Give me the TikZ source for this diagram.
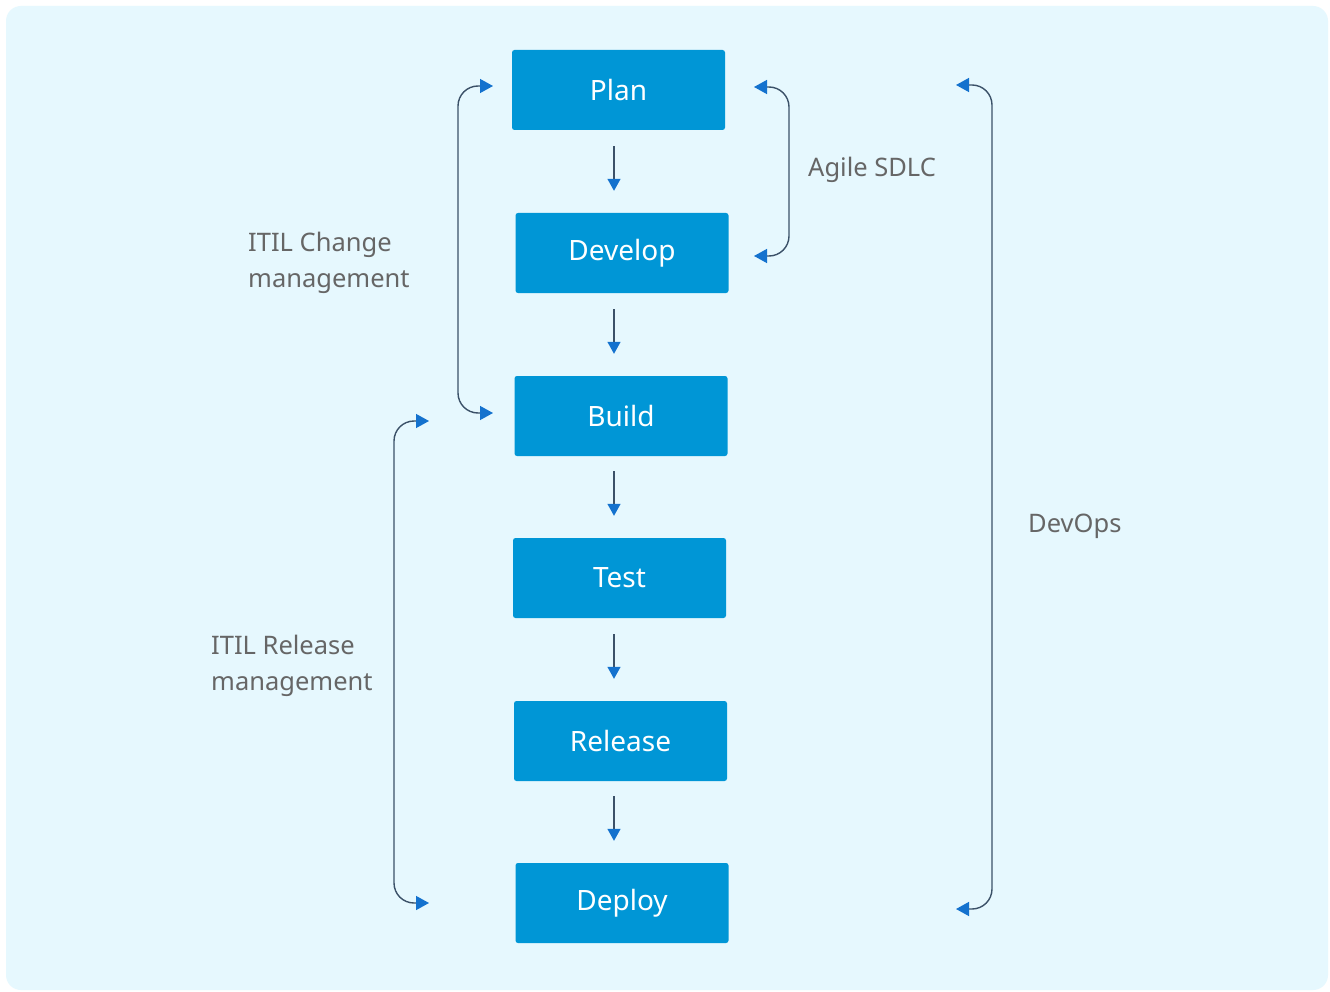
\documentclass[tikz,border=0pt]{standalone}
\usepackage{fontspec}
\setmainfont{Noto Sans}
\usetikzlibrary{arrows.meta,calc}
\definecolor{panel}{HTML}{E6F8FE}
\definecolor{stage}{HTML}{0096D6}
\definecolor{wire}{HTML}{3B5168}
\definecolor{tipblue}{HTML}{1472CE}
\definecolor{caption}{HTML}{666666}
\tikzset{
  stagebox/.style={fill=stage, rounded corners=2.5pt, minimum width=213pt, minimum height=80pt,
    inner sep=0pt, text=white, font=\fontsize{28}{32}\selectfont},
  flow/.style={draw=wire, line width=1.4pt, -{Triangle[length=12pt,width=13pt,color=tipblue]}},
  span/.style={draw=wire, line width=1.4pt, rounded corners=20pt,
    {Triangle[length=13pt,width=14pt,color=tipblue]}-{Triangle[length=13pt,width=14pt,color=tipblue]}},
  note/.style={text=caption, align=left, anchor=west, font=\fontsize{25.5}{36}\selectfont, inner sep=0pt}
}
\begin{document}
\begin{tikzpicture}[x=1pt,y=-1pt]
\useasboundingbox (0,0) rectangle (1330,992);
\fill[white] (0,0) rectangle (1330,992);
\fill[panel, rounded corners=15pt] (6,6) rectangle (1328,990);

% process stages
\node[stagebox] (plan)    at (618.5,90)  {Plan};
\node[stagebox] (develop) at (622,253)   {Develop};
\node[stagebox] (build)   at (621,416)   {Build};
\node[stagebox] (test)    at (619.5,578) {Test};
\node[stagebox] (release) at (620.5,741) {Release};
\node[stagebox] (deploy)  at (622,903)   {Deploy};

% sequence arrows
\coordinate (axis) at (614,0);
\draw[flow] ($(plan.south -| axis)+(0,16)$)    -- ($(develop.north -| axis)+(0,-22)$);
\draw[flow] ($(develop.south -| axis)+(0,16)$) -- ($(build.north -| axis)+(0,-22)$);
\draw[flow] ($(build.south -| axis)+(0,15)$)   -- ($(test.north -| axis)+(0,-22)$);
\draw[flow] ($(test.south -| axis)+(0,16)$)    -- ($(release.north -| axis)+(0,-22)$);
\draw[flow] ($(release.south -| axis)+(0,15)$) -- ($(deploy.north -| axis)+(0,-22)$);

% span end points
\coordinate (chgA) at (493,86);
\coordinate (chgB) at (493,413);
\coordinate (relA) at (429,421);
\coordinate (relB) at (429,903);
\coordinate (agA)  at (754,87);
\coordinate (agB)  at (754,256);
\coordinate (dvA)  at (956,85);
\coordinate (dvB)  at (956,909);

% spans
\draw[span] (chgA) -- (458,86) -- (458,413) -- (chgB);
\draw[span] (relA) -- (394,421) -- (394,903) -- (relB);
\draw[span] (agA) -- (789,87) -- (789,256) -- (agB);
\draw[span] (dvA) -- (992,85) -- (992,909) -- (dvB);

% span labels
\node[note] (chglbl) at (248,263) {ITIL Change\\management};
\node[note] (rellbl) at (211,666) {ITIL Release\\management};
\node[note] (aglbl)  at (808,170) {Agile SDLC};
\node[note] (dvlbl)  at (1028,526) {DevOps};
\end{tikzpicture}
\end{document}
